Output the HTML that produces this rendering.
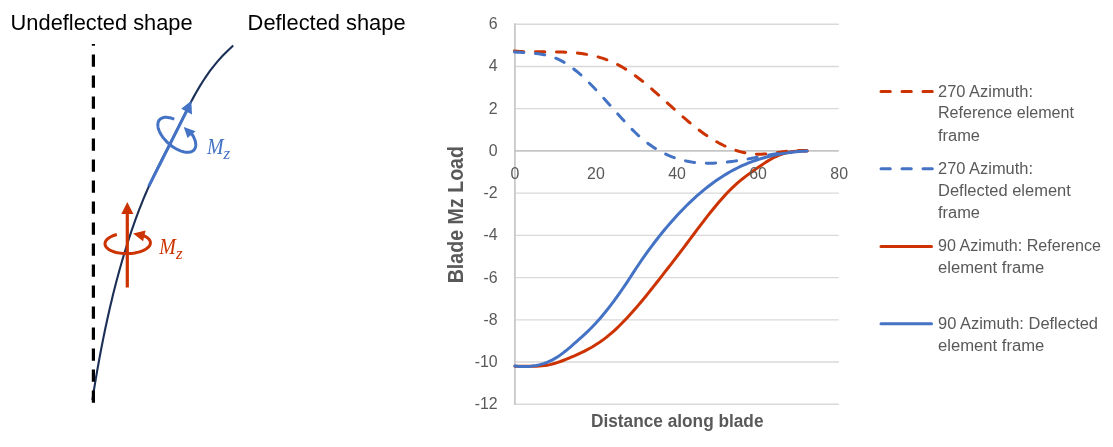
<!DOCTYPE html>
<html lang="en"><head><meta charset="utf-8"><title>Blade Mz Load</title>
<style>html,body{margin:0;padding:0;background:#fff}svg{display:block}</style></head>
<body>
<svg width="1113" height="447" viewBox="0 0 1113 447" style="will-change:transform;opacity:0.999">
<rect width="1113" height="447" fill="#fff"/>
<g style="font-family:'Liberation Sans',Arial,sans-serif" fill="#000">
<text x="10.6" y="30" font-size="21.3" textLength="182" lengthAdjust="spacingAndGlyphs">Undeflected shape</text>
<text x="247.6" y="30" font-size="21.3" textLength="158" lengthAdjust="spacingAndGlyphs">Deflected shape</text>
</g>
<path d="M233.21 45.5 L227.7 50.64 L222.64 55.78 L217.99 60.91 L213.72 66.05 L209.79 71.19 L206.15 76.33 L202.76 81.46 L199.58 86.6 L196.58 91.74 L193.72 96.88 L190.96 102.01 L188.29 107.15 L185.68 112.29 L183.11 117.43 L180.56 122.57 L178.01 127.7 L175.43 132.84 L172.83 137.98 L170.2 143.12 L167.57 148.25 L164.94 153.39 L162.32 158.53 L159.73 163.67 L157.17 168.8 L154.66 173.94 L152.21 179.08 L149.83 184.22 L147.53 189.36 L145.31 194.49 L143.16 199.63 L141.09 204.77 L139.08 209.91 L137.14 215.04 L135.26 220.18 L133.44 225.32 L131.67 230.46 L129.95 235.59 L128.28 240.73 L126.64 245.87 L125.05 251.01 L123.5 256.14 L121.99 261.28 L120.51 266.42 L119.08 271.56 L117.68 276.7 L116.31 281.83 L114.98 286.97 L113.68 292.11 L112.41 297.25 L111.17 302.38 L109.96 307.52 L108.78 312.66 L107.63 317.8 L106.51 322.93 L105.41 328.07 L104.34 333.21 L103.29 338.35 L102.26 343.49 L101.26 348.62 L100.28 353.76 L99.33 358.9 L98.39 364.04 L97.47 369.17 L96.57 374.31 L95.69 379.45 L94.83 384.59 L93.98 389.72 L93.15 394.86 L92.34 400" fill="none" stroke="#1B2F57" stroke-width="2.1"/>
<line x1="93.4" y1="402.7" x2="93.4" y2="44" stroke="#000" stroke-width="3.2" stroke-dasharray="12.2 8.8"/>
<line x1="148.75" y1="186.25" x2="186.9" y2="110.6" stroke="#4472C4" stroke-width="3"/>
<polygon points="191.3,100.8 181.2,108.7 192,114.5" fill="#4472C4"/>
<path d="M174.26 119.22 L172.58 118.57 L170.94 118.05 L169.35 117.66 L167.81 117.41 L166.35 117.3 L164.97 117.33 L163.68 117.51 L162.51 117.82 L161.45 118.27 L160.51 118.86 L159.7 119.57 L159.03 120.41 L158.51 121.36 L158.13 122.42 L157.91 123.59 L157.84 124.84 L157.92 126.17 L158.15 127.57 L158.53 129.03 L159.06 130.54 L159.74 132.08 L160.55 133.65 L161.5 135.22 L162.56 136.79 L163.75 138.34 L165.03 139.87 L166.42 141.35 L167.89 142.78 L169.42 144.15 L171.02 145.44 L172.67 146.65 L174.35 147.76 L176.05 148.76 L177.75 149.65 L179.45 150.42 L181.12 151.07 L182.77 151.58 L184.36 151.96 L185.89 152.2 L187.35 152.3 L188.72 152.26 L190 152.07 L191.17 151.75 L192.22 151.29 L193.15 150.7 L193.95 149.98 L194.6 149.13 L195.12 148.17 L195.49 147.1 L195.7 145.93 L195.76 144.68 L195.67 143.34 L195.43 141.93 L195.04 140.47 L194.5 138.96 L193.81 137.41 L192.99 135.85 L192.04 134.28 L190.96 132.71" fill="none" stroke="#4472C4" stroke-width="3"/>
<polygon points="183.75,126.9 195.6,131.25 187.5,138.1" fill="#4472C4"/>
<line x1="127.3" y1="287.5" x2="127.3" y2="213" stroke="#CC3300" stroke-width="3.2"/>
<polygon points="127.3,202 121.3,213.9 133.4,213.9" fill="#CC3300"/>
<path d="M116.81 234.49 L115.17 234.97 L113.61 235.52 L112.16 236.12 L110.82 236.77 L109.6 237.46 L108.5 238.2 L107.55 238.98 L106.74 239.79 L106.08 240.62 L105.57 241.47 L105.23 242.33 L105.04 243.21 L105.02 244.08 L105.15 244.94 L105.45 245.8 L105.91 246.63 L106.53 247.45 L107.29 248.23 L108.2 248.98 L109.25 249.69 L110.44 250.35 L111.74 250.96 L113.17 251.51 L114.69 252.01 L116.31 252.45 L118.01 252.82 L119.78 253.12 L121.6 253.35 L123.47 253.51 L125.37 253.6 L127.28 253.61 L129.2 253.55 L131.11 253.41 L133 253.21 L134.84 252.93 L136.64 252.58 L138.37 252.17 L140.02 251.7 L141.59 251.16 L143.05 250.57 L144.41 249.92 L145.65 249.23 L146.76 248.5 L147.73 247.73 L148.56 246.92 L149.24 246.09 L149.77 245.24 L150.14 244.38 L150.34 243.51 L150.39 242.64 L150.27 241.77 L150 240.91 L149.56 240.08 L148.96 239.26 L148.22 238.47 L147.33 237.72 L146.29 237.01 L145.13 236.34 L143.84 235.72" fill="none" stroke="#CC3300" stroke-width="3"/>
<polygon points="133.1,233.4 145.6,230.6 143.1,241.25" fill="#CC3300"/>
<text x="207" y="154" font-size="23" fill="#4472C4" style="font-family:'Liberation Serif','DejaVu Serif',serif;font-style:italic" textLength="16.6" lengthAdjust="spacingAndGlyphs">M</text><text x="223.6" y="158.8" font-size="17" fill="#4472C4" style="font-family:'Liberation Serif','DejaVu Serif',serif;font-style:italic">z</text>
<text x="159.2" y="254" font-size="23" fill="#CC3300" style="font-family:'Liberation Serif','DejaVu Serif',serif;font-style:italic" textLength="16.6" lengthAdjust="spacingAndGlyphs">M</text><text x="176" y="258.9" font-size="17" fill="#CC3300" style="font-family:'Liberation Serif','DejaVu Serif',serif;font-style:italic">z</text>
<line x1="514.5" x2="838.8" y1="24.2" y2="24.2" stroke="#D9D9D9" stroke-width="1.4"/>
<line x1="514.5" x2="838.8" y1="66.43" y2="66.43" stroke="#D9D9D9" stroke-width="1.4"/>
<line x1="514.5" x2="838.8" y1="108.67" y2="108.67" stroke="#D9D9D9" stroke-width="1.4"/>
<line x1="514.5" x2="838.8" y1="193.13" y2="193.13" stroke="#D9D9D9" stroke-width="1.4"/>
<line x1="514.5" x2="838.8" y1="235.37" y2="235.37" stroke="#D9D9D9" stroke-width="1.4"/>
<line x1="514.5" x2="838.8" y1="277.6" y2="277.6" stroke="#D9D9D9" stroke-width="1.4"/>
<line x1="514.5" x2="838.8" y1="319.84" y2="319.84" stroke="#D9D9D9" stroke-width="1.4"/>
<line x1="514.5" x2="838.8" y1="362.07" y2="362.07" stroke="#D9D9D9" stroke-width="1.4"/>
<line x1="514.5" x2="838.8" y1="404.3" y2="404.3" stroke="#D9D9D9" stroke-width="1.4"/>
<line x1="514.5" x2="838.8" y1="150.8" y2="150.8" stroke="#C6C6C6" stroke-width="1.8"/>
<line x1="514.9" x2="514.9" y1="23.3" y2="405" stroke="#C6C6C6" stroke-width="1.7"/>
<path d="M514.5 51.11 L517.18 51.3 L519.87 51.46 L522.55 51.58 L525.23 51.68 L527.92 51.75 L530.6 51.8 L533.28 51.84 L535.97 51.86 L538.65 51.87 L541.33 51.87 L544.02 51.87 L546.7 51.87 L549.39 51.88 L552.07 51.89 L554.75 51.91 L557.44 51.95 L560.12 52.01 L562.8 52.09 L565.49 52.2 L568.17 52.33 L570.85 52.5 L573.54 52.71 L576.22 52.95 L578.9 53.24 L581.59 53.58 L584.27 53.97 L586.95 54.41 L589.64 54.92 L592.32 55.48 L595 56.11 L597.69 56.81 L600.37 57.58 L603.06 58.43 L605.74 59.36 L608.42 60.38 L611.11 61.48 L613.79 62.67 L616.47 63.96 L619.16 65.34 L621.84 66.83 L624.52 68.42 L627.21 70.11 L629.89 71.89 L632.57 73.75 L635.26 75.69 L637.94 77.71 L640.62 79.8 L643.31 81.94 L645.99 84.14 L648.67 86.39 L651.36 88.69 L654.04 91.02 L656.72 93.38 L659.41 95.77 L662.09 98.18 L664.78 100.6 L667.46 103.02 L670.14 105.45 L672.83 107.88 L675.51 110.29 L678.19 112.69 L680.88 115.06 L683.56 117.4 L686.24 119.71 L688.93 121.98 L691.61 124.2 L694.29 126.37 L696.98 128.48 L699.66 130.52 L702.34 132.5 L705.03 134.4 L707.71 136.22 L710.39 137.97 L713.08 139.64 L715.76 141.23 L718.44 142.74 L721.13 144.16 L723.81 145.49 L726.5 146.74 L729.18 147.9 L731.86 148.96 L734.55 149.94 L737.23 150.81 L739.91 151.59 L742.6 152.27 L745.28 152.85 L747.96 153.33 L750.65 153.7 L753.33 153.97 L756.01 154.12 L758.7 154.18 L761.38 154.13 L764.06 154 L766.75 153.81 L769.43 153.55 L772.11 153.25 L774.8 152.91 L777.48 152.55 L780.17 152.19 L782.85 151.82 L785.53 151.48 L788.22 151.16 L790.9 150.88 L793.58 150.66 L796.27 150.5 L798.95 150.42 L801.63 150.43 L804.32 150.55 L807 150.77" fill="none" stroke="#CC3300" stroke-width="3" stroke-linecap="round" stroke-dasharray="9.3 11.7"/>
<path d="M514.5 51.99 L517.18 52.19 L519.87 52.36 L522.55 52.52 L525.23 52.67 L527.92 52.83 L530.6 53.01 L533.28 53.22 L535.97 53.48 L538.65 53.81 L541.33 54.2 L544.02 54.69 L546.7 55.27 L549.39 55.96 L552.07 56.78 L554.75 57.74 L557.44 58.85 L560.12 60.12 L562.8 61.56 L565.49 63.16 L568.17 64.91 L570.85 66.79 L573.54 68.81 L576.22 70.96 L578.9 73.22 L581.59 75.59 L584.27 78.07 L586.95 80.63 L589.64 83.27 L592.32 86 L595 88.79 L597.69 91.63 L600.37 94.53 L603.06 97.47 L605.74 100.45 L608.42 103.45 L611.11 106.46 L613.79 109.48 L616.47 112.5 L619.16 115.5 L621.84 118.47 L624.52 121.4 L627.21 124.28 L629.89 127.1 L632.57 129.85 L635.26 132.52 L637.94 135.05 L640.62 137.46 L643.31 139.74 L645.99 141.89 L648.67 143.92 L651.36 145.84 L654.04 147.63 L656.72 149.31 L659.41 150.89 L662.09 152.35 L664.78 153.7 L667.46 154.95 L670.14 156.11 L672.83 157.16 L675.51 158.11 L678.19 158.98 L680.88 159.75 L683.56 160.44 L686.24 161.05 L688.93 161.57 L691.61 162.02 L694.29 162.39 L696.98 162.69 L699.66 162.93 L702.34 163.09 L705.03 163.2 L707.71 163.25 L710.39 163.24 L713.08 163.17 L715.76 163.06 L718.44 162.9 L721.13 162.69 L723.81 162.45 L726.5 162.17 L729.18 161.85 L731.86 161.5 L734.55 161.12 L737.23 160.71 L739.91 160.29 L742.6 159.84 L745.28 159.38 L747.96 158.9 L750.65 158.41 L753.33 157.91 L756.01 157.41 L758.7 156.91 L761.38 156.41 L764.06 155.92 L766.75 155.43 L769.43 154.95 L772.11 154.48 L774.8 154.04 L777.48 153.61 L780.17 153.2 L782.85 152.83 L785.53 152.47 L788.22 152.16 L790.9 151.87 L793.58 151.63 L796.27 151.42 L798.95 151.26 L801.63 151.15 L804.32 151.08 L807 151.07" fill="none" stroke="#4472C4" stroke-width="3" stroke-linecap="round" stroke-dasharray="9.3 11.7"/>
<path d="M514.9 366.28 L517.58 366.27 L520.26 366.29 L522.94 366.31 L525.62 366.34 L528.3 366.35 L530.98 366.34 L533.66 366.3 L536.34 366.21 L539.02 366.06 L541.7 365.84 L544.38 365.54 L547.06 365.15 L549.74 364.65 L552.42 364.03 L555.1 363.3 L557.78 362.45 L560.46 361.51 L563.14 360.49 L565.82 359.43 L568.5 358.33 L571.18 357.21 L573.86 356.06 L576.54 354.88 L579.22 353.66 L581.9 352.4 L584.58 351.07 L587.26 349.69 L589.93 348.23 L592.61 346.7 L595.29 345.08 L597.97 343.37 L600.65 341.55 L603.33 339.63 L606.01 337.6 L608.69 335.45 L611.37 333.18 L614.05 330.8 L616.73 328.32 L619.41 325.74 L622.09 323.06 L624.77 320.3 L627.45 317.46 L630.13 314.54 L632.81 311.54 L635.49 308.48 L638.17 305.36 L640.85 302.18 L643.53 298.95 L646.21 295.68 L648.89 292.37 L651.57 289.02 L654.25 285.64 L656.93 282.24 L659.61 278.82 L662.29 275.39 L664.97 271.95 L667.65 268.51 L670.33 265.06 L673.01 261.59 L675.69 258.12 L678.37 254.63 L681.05 251.11 L683.73 247.58 L686.41 244.02 L689.09 240.44 L691.77 236.85 L694.45 233.26 L697.13 229.68 L699.81 226.12 L702.49 222.59 L705.17 219.1 L707.85 215.66 L710.53 212.28 L713.21 208.96 L715.89 205.71 L718.57 202.54 L721.25 199.46 L723.93 196.47 L726.61 193.58 L729.29 190.8 L731.97 188.13 L734.64 185.59 L737.32 183.18 L740 180.89 L742.68 178.71 L745.36 176.63 L748.04 174.62 L750.72 172.67 L753.4 170.77 L756.08 168.89 L758.76 167.03 L761.44 165.19 L764.12 163.38 L766.8 161.63 L769.48 159.98 L772.16 158.44 L774.84 157.04 L777.52 155.8 L780.2 154.71 L782.88 153.78 L785.56 153 L788.24 152.37 L790.92 151.9 L793.6 151.55 L796.28 151.32 L798.96 151.17 L801.64 151.08 L804.32 151.04 L807 151.02" fill="none" stroke="#CC3300" stroke-width="3" stroke-linecap="round"/>
<path d="M514.9 366.07 L517.58 366.29 L520.26 366.44 L522.94 366.51 L525.62 366.5 L528.3 366.39 L530.98 366.18 L533.66 365.86 L536.34 365.43 L539.02 364.87 L541.7 364.17 L544.38 363.33 L547.06 362.34 L549.74 361.19 L552.42 359.87 L555.1 358.38 L557.78 356.71 L560.46 354.87 L563.14 352.89 L565.82 350.79 L568.5 348.59 L571.18 346.31 L573.86 343.97 L576.54 341.59 L579.22 339.19 L581.9 336.78 L584.58 334.33 L587.26 331.82 L589.93 329.23 L592.61 326.54 L595.29 323.72 L597.97 320.78 L600.65 317.72 L603.33 314.54 L606.01 311.26 L608.69 307.87 L611.37 304.37 L614.05 300.78 L616.73 297.1 L619.41 293.34 L622.09 289.49 L624.77 285.56 L627.45 281.56 L630.13 277.49 L632.81 273.39 L635.49 269.29 L638.17 265.24 L640.85 261.28 L643.53 257.41 L646.21 253.63 L648.89 249.93 L651.57 246.31 L654.25 242.76 L656.93 239.29 L659.61 235.88 L662.29 232.55 L664.97 229.29 L667.65 226.1 L670.33 222.99 L673.01 219.94 L675.69 216.96 L678.37 214.06 L681.05 211.23 L683.73 208.46 L686.41 205.77 L689.09 203.15 L691.77 200.6 L694.45 198.12 L697.13 195.71 L699.81 193.38 L702.49 191.11 L705.17 188.91 L707.85 186.78 L710.53 184.73 L713.21 182.74 L715.89 180.83 L718.57 178.98 L721.25 177.21 L723.93 175.5 L726.61 173.87 L729.29 172.3 L731.97 170.8 L734.64 169.38 L737.32 168.02 L740 166.72 L742.68 165.48 L745.36 164.31 L748.04 163.2 L750.72 162.15 L753.4 161.15 L756.08 160.21 L758.76 159.33 L761.44 158.5 L764.12 157.71 L766.8 156.98 L769.48 156.3 L772.16 155.67 L774.84 155.08 L777.52 154.53 L780.2 154.03 L782.88 153.56 L785.56 153.14 L788.24 152.76 L790.92 152.41 L793.6 152.09 L796.28 151.81 L798.96 151.57 L801.64 151.35 L804.32 151.16 L807 151" fill="none" stroke="#4472C4" stroke-width="3" stroke-linecap="round"/>
<g style="font-family:'Liberation Sans',Arial,sans-serif" fill="#595959" font-size="15.9">
<text x="497.6" y="29.2" text-anchor="end">6</text>
<text x="497.6" y="71.43" text-anchor="end">4</text>
<text x="497.6" y="113.67" text-anchor="end">2</text>
<text x="497.6" y="155.9" text-anchor="end">0</text>
<text x="497.6" y="198.13" text-anchor="end">-2</text>
<text x="497.6" y="240.37" text-anchor="end">-4</text>
<text x="497.6" y="282.6" text-anchor="end">-6</text>
<text x="497.6" y="324.84" text-anchor="end">-8</text>
<text x="497.6" y="367.07" text-anchor="end">-10</text>
<text x="497.6" y="409.3" text-anchor="end">-12</text>
<text x="514.8" y="179.3" text-anchor="middle">0</text>
<text x="595.9" y="179.3" text-anchor="middle">20</text>
<text x="677" y="179.3" text-anchor="middle">40</text>
<text x="758.1" y="179.3" text-anchor="middle">60</text>
<text x="839.2" y="179.3" text-anchor="middle">80</text>
</g>
<g style="font-family:'Liberation Sans',Arial,sans-serif;font-weight:bold" fill="#595959">
<text x="591" y="427" font-size="17.5" textLength="172.5" lengthAdjust="spacingAndGlyphs">Distance along blade</text>
<text transform="translate(463 283.3) rotate(-90)" font-size="21.5" textLength="137.3" lengthAdjust="spacingAndGlyphs">Blade Mz Load</text>
</g>
<line x1="881" x2="932.3" y1="91.5" y2="91.5" stroke="#CC3300" stroke-width="3" stroke-linecap="round" stroke-dasharray="9.3 11.7"/>
<line x1="881" x2="932.3" y1="168.7" y2="168.7" stroke="#4472C4" stroke-width="3" stroke-linecap="round" stroke-dasharray="9.3 11.7"/>
<line x1="881" x2="931.5" y1="246.5" y2="246.5" stroke="#CC3300" stroke-width="3" stroke-linecap="round"/>
<line x1="881" x2="931.5" y1="323.7" y2="323.7" stroke="#4472C4" stroke-width="3" stroke-linecap="round"/>
<g style="font-family:'Liberation Sans',Arial,sans-serif" fill="#595959" font-size="16">
<text x="938" y="96.7" textLength="95" lengthAdjust="spacingAndGlyphs">270 Azimuth:</text>
<text x="938" y="117.8" textLength="136" lengthAdjust="spacingAndGlyphs">Reference element</text>
<text x="938" y="140.6" textLength="42" lengthAdjust="spacingAndGlyphs">frame</text>
<text x="938" y="174.1" textLength="95" lengthAdjust="spacingAndGlyphs">270 Azimuth:</text>
<text x="938" y="195.9" textLength="132.8" lengthAdjust="spacingAndGlyphs">Deflected element</text>
<text x="938" y="218" textLength="42" lengthAdjust="spacingAndGlyphs">frame</text>
<text x="938" y="251.2" textLength="163" lengthAdjust="spacingAndGlyphs">90 Azimuth: Reference</text>
<text x="938" y="273" textLength="106.3" lengthAdjust="spacingAndGlyphs">element frame</text>
<text x="938" y="328.8" textLength="160" lengthAdjust="spacingAndGlyphs">90 Azimuth: Deflected</text>
<text x="938" y="351" textLength="106.3" lengthAdjust="spacingAndGlyphs">element frame</text>
</g>
</svg>
</body></html>
